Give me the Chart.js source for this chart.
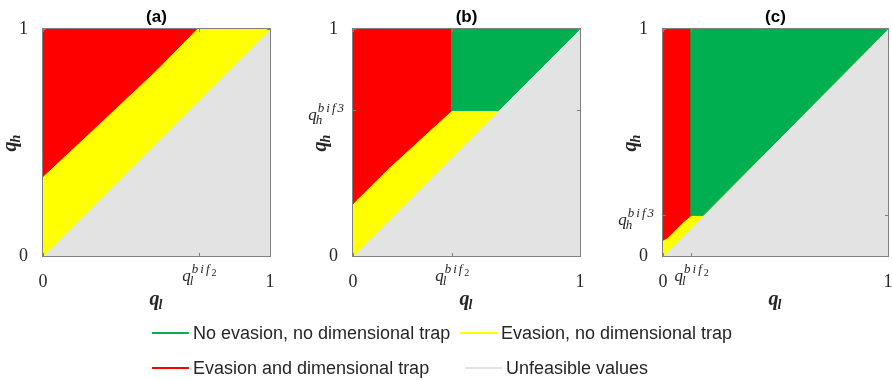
<!DOCTYPE html>
<html>
<head>
<meta charset="utf-8">
<script src="https://cdn.jsdelivr.net/npm/chart.js@4.4.1/dist/chart.umd.min.js"></script>
<style>
  html, body { margin: 0; padding: 0; background: #fff; }
  #wrap { position: relative; width: 892px; height: 380px; overflow: hidden; }
  #wrap canvas { position: absolute; left: 0; top: 0; }
  .leg-text { position: absolute; font: 18px "Liberation Sans", Arial, sans-serif; color: #262626; white-space: nowrap; line-height: 20px; }
  .leg-line { position: absolute; height: 2px; width: 37px; }
</style>
</head>
<body>
<div id="wrap">
  <canvas id="panelA" width="910" height="380"></canvas>
  <canvas id="panelB" width="910" height="380"></canvas>
  <canvas id="panelC" width="910" height="380"></canvas>
</div>
<script>
// --- data ---
const panelTitles = ['(a)', '(b)', '(c)'];
const qlBif2 = [0.687, 0.435, 0.125];
const qhBif3 = [null, 0.641, 0.179];

// boundary between red and yellow regions
const aRedEdgeX = [0, 0.25, 0.5, 0.677];
const aRedEdgeY = [0.351, 0.585, 0.82, 1];
const bRedEdgeX = [0, 0.16, 0.31, 0.435];
const bRedEdgeY = [0.231, 0.39, 0.527, 0.641];
const cRedEdgeX = [0, 0.02, 0.05, 0.09, 0.125];
const cRedEdgeY = [0.07, 0.08, 0.11, 0.15, 0.179];

const xTickLabels = ['0', 'q_l^bif_2', '1'];
const yTickLabelsA = ['0', '1'];
const yTickLabelsBC = ['0', 'q_h^bif3', '1'];

const legendLabels = ['No evasion, no dimensional trap', 'Evasion, no dimensional trap',
                      'Evasion and dimensional trap', 'Unfeasible values'];

const RED = '#ff0000', YELLOW = '#ffff00', GREEN = '#00b050', GRAY = '#e3e3e3';
const legendColors = [GREEN, YELLOW, RED, GRAY];

function pts(xs, ys) {
    return xs.map((x, i) => ({ x: x, y: ys[i] }));
}

// zone polygons, top layer first
const square = [{x: 0, y: 0}, {x: 1, y: 0}, {x: 1, y: 1}, {x: 0, y: 1}, {x: 0, y: 0}];
const upperTri = [{x: 0, y: 0}, {x: 1, y: 1}, {x: 0, y: 1}, {x: 0, y: 0}];

const polysA = [
    { color: RED, data: [{x: 0, y: 1}].concat(pts(aRedEdgeX, aRedEdgeY), [{x: 0, y: 1}]) },
    { color: YELLOW, data: upperTri },
    { color: GRAY, data: square }
];
const polysB = [
    { color: GREEN, data: [{x: qlBif2[1], y: qhBif3[1]}, {x: qhBif3[1], y: qhBif3[1]}, {x: 1, y: 1}, {x: qlBif2[1], y: 1}, {x: qlBif2[1], y: qhBif3[1]}] },
    { color: RED, data: [{x: 0, y: 1}].concat(pts(bRedEdgeX, bRedEdgeY), [{x: qlBif2[1], y: 1}, {x: 0, y: 1}]) },
    { color: YELLOW, data: upperTri },
    { color: GRAY, data: square }
];
const polysC = [
    { color: GREEN, data: [{x: qlBif2[2], y: qhBif3[2]}, {x: qhBif3[2], y: qhBif3[2]}, {x: 1, y: 1}, {x: qlBif2[2], y: 1}, {x: qlBif2[2], y: qhBif3[2]}] },
    { color: RED, data: [{x: 0, y: 1}].concat(pts(cRedEdgeX, cRedEdgeY), [{x: qlBif2[2], y: 1}, {x: 0, y: 1}]) },
    { color: YELLOW, data: upperTri },
    { color: GRAY, data: square }
];

const serif = '"Liberation Serif", "Times New Roman", serif';
const ink = '#262626';

// q with subscript and superscript, like q_l^{bif_2}
function drawQ(ctx, x, y, label, align, bold) {
    const m = label.match(/^q_(\w)(?:\^([a-z]+\d?)(?:_(\d))?)?$/);
    const sub = m[1], sup = m[2] || '', supSub = m[3] || '';
    const w8 = bold ? 'bold ' : '';
    const big = 'italic ' + w8 + (bold ? 20 : 17) + 'px ' + serif;
    const small = 'italic ' + w8 + (bold ? 14 : 13) + 'px ' + serif;
    const tiny = '10px ' + serif;
    const hasLS = 'letterSpacing' in ctx;
    ctx.font = big;
    const wq = ctx.measureText('q').width;
    ctx.font = small;
    const wsub = ctx.measureText(sub).width;
    if (hasLS) ctx.letterSpacing = '2px';
    const wsup = sup ? ctx.measureText(sup).width : 0;
    if (hasLS) ctx.letterSpacing = '0px';
    ctx.font = tiny;
    const wss = supSub ? ctx.measureText(supSub).width : 0;
    const w = wq + Math.max(wsub, wsup + wss);
    const x0 = align === 'center' ? x - w / 2 : x - w;
    ctx.textAlign = 'left';
    ctx.textBaseline = 'alphabetic';
    ctx.fillStyle = ink;
    ctx.font = big;
    ctx.fillText('q', x0, y);
    ctx.font = small;
    ctx.fillText(sub, x0 + wq - 1, y + 4);
    if (sup) {
        if (hasLS) ctx.letterSpacing = '2px';
        ctx.fillText(sup, x0 + wq + 1, y - 8);
        if (hasLS) ctx.letterSpacing = '0px';
    }
    if (supSub) {
        ctx.font = tiny;
        ctx.fillText(supSub, x0 + wq + 1 + wsup, y - 5);
    }
}

const qAxesPlugin = {
    id: 'qAxes',
    afterDraw(chart) {
        const { ctx, chartArea: a } = chart;
        const sx = chart.scales.x, sy = chart.scales.y;
        ctx.save();
        // box
        ctx.strokeStyle = '#808080';
        ctx.lineWidth = 1;
        ctx.strokeRect(a.left - 0.5, a.top - 0.5, a.right - a.left + 1, a.bottom - a.top + 1);
        // inward ticks
        ctx.beginPath();
        sx.ticks.forEach(t => {
            const px = Math.round(sx.getPixelForValue(t.value)) + 0.5;
            ctx.moveTo(px, a.bottom); ctx.lineTo(px, a.bottom - 3);
            ctx.moveTo(px, a.top); ctx.lineTo(px, a.top + 3);
        });
        sy.ticks.forEach(t => {
            const py = Math.round(sy.getPixelForValue(t.value)) + 0.5;
            ctx.moveTo(a.left, py); ctx.lineTo(a.left + 3, py);
            ctx.moveTo(a.right, py); ctx.lineTo(a.right - 3, py);
        });
        ctx.stroke();
        // math tick labels
        const xl = chart.options.plugins.qAxes.xLabels;
        const yl = chart.options.plugins.qAxes.yLabels;
        sx.ticks.forEach((t, i) => {
            if (xl[i].startsWith('q')) drawQ(ctx, sx.getPixelForValue(t.value), a.bottom + 25, xl[i], 'center', false);
        });
        sy.ticks.forEach((t, i) => {
            if (yl[i].startsWith('q')) drawQ(ctx, a.left - 8, sy.getPixelForValue(t.value) + 10, yl[i], 'right', false);
        });
        // axis titles
        drawQ(ctx, (a.left + a.right) / 2, a.bottom + 49, 'q_l', 'center', true);
        ctx.translate(a.left - 27, (a.top + a.bottom) / 2);
        ctx.rotate(-Math.PI / 2);
        drawQ(ctx, 0, 0, 'q_h', 'center', true);
        ctx.restore();
    }
};

function makePanel(id, idx, left, right, polys, yLabels) {
    const xTicks = [0, qlBif2[idx], 1];
    const yTicks = qhBif3[idx] === null ? [0, 1] : [0, qhBif3[idx], 1];
    const tickFont = { family: serif, size: 18 };
    return new Chart(document.getElementById(id), {
        type: 'scatter',
        data: {
            datasets: polys.map(p => ({
                data: p.data,
                showLine: true,
                fill: 'shape',
                tension: 0,
                backgroundColor: p.color,
                borderColor: p.color,
                borderWidth: 1,
                pointRadius: 0,
                pointHoverRadius: 0
            }))
        },
        options: {
            responsive: false,
            animation: false,
            events: [],
            layout: { padding: { left: left - 43, right: 910 - right, top: 0, bottom: 90 } },
            plugins: {
                legend: { display: false },
                tooltip: { enabled: false },
                title: {
                    display: true,
                    text: panelTitles[idx],
                    fullSize: false,
                    color: '#000',
                    font: { family: '"Liberation Sans", Arial, sans-serif', size: 17, weight: 'bold' },
                    padding: { top: 7.5, bottom: 1.1 }
                },
                qAxes: { xLabels: xTickLabels, yLabels: yLabels }
            },
            scales: {
                x: {
                    type: 'linear', min: 0, max: 1,
                    grid: { display: false },
                    border: { display: false },
                    afterBuildTicks: s => { s.ticks = xTicks.map(v => ({ value: v })); },
                    afterFit: s => { s.height = 34; },
                    ticks: {
                        autoSkip: false, maxRotation: 0, padding: 7,
                        font: tickFont, color: ink,
                        callback: (v, i) => xTickLabels[i].startsWith('q') ? '' : xTickLabels[i]
                    }
                },
                y: {
                    type: 'linear', min: 0, max: 1,
                    grid: { display: false },
                    border: { display: false },
                    afterBuildTicks: s => { s.ticks = yTicks.map(v => ({ value: v })); },
                    afterFit: s => { s.width = 43; },
                    ticks: {
                        autoSkip: false, padding: 7,
                        font: tickFont, color: ink,
                        callback: (v, i) => yLabels[i].startsWith('q') ? '' : yLabels[i]
                    }
                }
            }
        },
        plugins: [qAxesPlugin]
    });
}

makePanel('panelA', 0, 43, 270, polysA, yTickLabelsA);
makePanel('panelB', 1, 353, 580, polysB, yTickLabelsBC);
makePanel('panelC', 2, 663, 888, polysC, yTickLabelsBC);

// legend (two rows)
const legendPos = [[152, 323], [460, 323], [152, 358], [465, 358]];
const wrap = document.getElementById('wrap');
legendLabels.forEach((txt, i) => {
    const [lx, ty] = legendPos[i];
    const line = document.createElement('div');
    line.className = 'leg-line';
    line.style.left = lx + 'px';
    line.style.top = (ty + 9) + 'px';
    line.style.background = legendColors[i];
    wrap.appendChild(line);
    const span = document.createElement('div');
    span.className = 'leg-text';
    span.style.left = (lx + 41) + 'px';
    span.style.top = ty + 'px';
    span.textContent = txt;
    wrap.appendChild(span);
});
</script>
</body>
</html>
